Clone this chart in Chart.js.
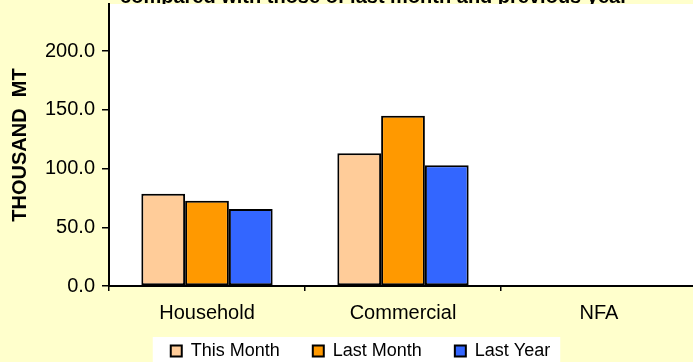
<!DOCTYPE html>
<html lang="en">
<head>
    <meta charset="UTF-8">
    <title>Stocks</title>
    <style>
        body { margin: 0; background: #FFFFCC; overflow: hidden; width: 693px; height: 362px; position: relative; }
        .box { position: absolute; left: 0; top: 0; width: 700px; height: 386px; }
        .title-strip { position: absolute; left: 0; top: 0; width: 693px; height: 4px; overflow: hidden; z-index: 2; }
        .title-strip span { position: absolute; left: 0; width: 748px; top: -15px; text-align: center; line-height: 20px;
            font: bold 20px "Liberation Sans", Arial, sans-serif; color: #000; white-space: nowrap; }
    </style>
</head>
<body>
    <div class="title-strip"><span>compared with those of last month and previous year</span></div>
    <div class="box"><canvas id="chart"></canvas></div>
    <script src="https://cdn.jsdelivr.net/npm/chart.js"></script>
    <script>
        // values
        const categories = ["Household", "Commercial", "NFA"];
        const seriesNames = ["This Month", "Last Month", "Last Year"];
        const thisMonth = [78.6, 112.9, 0];
        const lastMonth = [72.6, 144.9, 0];
        const lastYear = [65.5, 102.7, 0];
        const yMax = 240;
        const yStep = 50;

        const colors = ["#FFCC99", "#FF9900", "#3366FF"];
        const font = "'Liberation Sans', Arial, sans-serif";

        // white plot area and white legend box; legend nudged like the original
        const backdrop = {
            id: "backdrop",
            afterLayout(chart) {
                const lg = chart.legend;
                lg.left += 12;
                lg.right += 12;
                lg.top -= 16;
                lg.bottom -= 16;
            },
            beforeDraw(chart) {
                const ctx = chart.ctx;
                const a = chart.chartArea;
                ctx.save();
                ctx.fillStyle = "#FFFFFF";
                ctx.fillRect(a.left, a.top, a.right - a.left, a.bottom - a.top);
                const hb = chart.legend.legendHitBoxes;
                if (hb && hb.length) {
                    const last = hb[hb.length - 1];
                    const x0 = hb[0].left - 18;
                    const x1 = last.left + last.width + 10;
                    const y0 = hb[0].top + hb[0].height / 2 - 14;
                    ctx.fillRect(x0, y0, x1 - x0, chart.height - y0);
                }
                ctx.restore();
            }
        };

        const series = [thisMonth, lastMonth, lastYear];
        new Chart(document.getElementById("chart"), {
            type: "bar",
            data: {
                labels: categories,
                datasets: series.map((d, i) => ({
                    label: seriesNames[i],
                    data: d,
                    backgroundColor: colors[i],
                    borderColor: "#000000",
                    borderWidth: 2,
                    borderSkipped: false,
                    categoryPercentage: 0.67,
                    barPercentage: 1.0
                }))
            },
            options: {
                responsive: true,
                maintainAspectRatio: false,
                animation: false,
                layout: { padding: { top: 4, right: 3, left: 0, bottom: 0 } },
                plugins: {
                    legend: {
                        position: "bottom",
                        labels: {
                            boxWidth: 11,
                            boxHeight: 11,
                            padding: 33,
                            color: "#000",
                            font: { family: font, size: 18 }
                        }
                    },
                    tooltip: { enabled: false }
                },
                scales: {
                    x: {
                        offset: true,
                        grid: { offset: true, drawOnChartArea: false, color: "#000", lineWidth: 1.5, tickLength: 5 },
                        border: { color: "#000", width: 2 },
                        ticks: { color: "#000", padding: 10, font: { family: font, size: 20 } },
                        afterFit(scale) { scale.height = 39; }
                    },
                    y: {
                        min: 0,
                        max: yMax,
                        grid: { drawOnChartArea: false, color: "#000", lineWidth: 1.5, tickLength: 7 },
                        border: { color: "#000", width: 2 },
                        ticks: {
                            stepSize: yStep,
                            includeBounds: false,
                            color: "#000",
                            padding: 7,
                            font: { family: font, size: 20 },
                            callback: v => v.toFixed(1)
                        },
                        title: {
                            display: true,
                            text: "THOUSAND  MT",
                            color: "#000",
                            padding: { top: 8, bottom: 0 },
                            font: { family: font, size: 20, weight: "bold" }
                        },
                        afterFit(scale) {
                            scale.width = 109;
                            scale.paddingTop = 0;
                            scale.paddingBottom = 0;
                        }
                    }
                }
            },
            plugins: [backdrop]
        });
    </script>
</body>
</html>
